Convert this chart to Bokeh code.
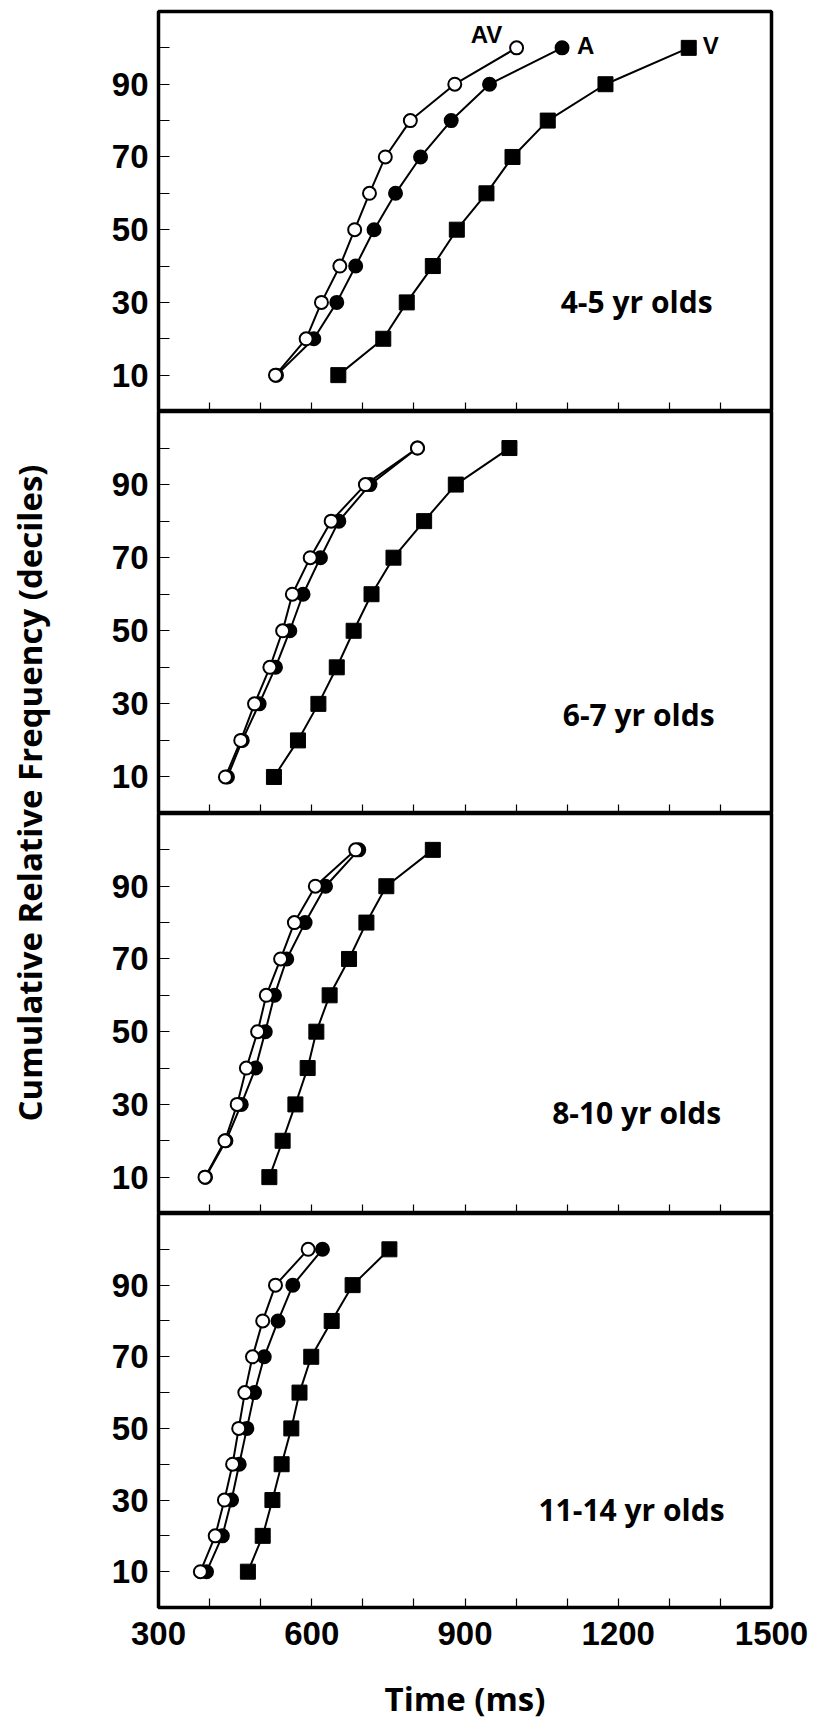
import numpy as np
from bokeh.plotting import figure
from bokeh.layouts import column, row
from bokeh.models import Range1d, FixedTicker, Label
from bokeh.embed import file_html
from bokeh.resources import INLINE

# ---------------- data ----------------
deciles = [10, 20, 30, 40, 50, 60, 70, 80, 90, 100]
groups = ["4-5 yr olds", "6-7 yr olds", "8-10 yr olds", "11-14 yr olds"]
series_names = ["AV", "A", "V"]

av_45 = [529, 589, 619, 655, 684, 713, 744, 793, 880, 1001]
a_45 = [531, 604, 649, 686, 722, 764, 813, 873, 948, 1090]
v_45 = [652, 740, 786, 837, 884, 942, 993, 1062, 1175, 1338]

av_67 = [431, 461, 488, 518, 543, 562, 597, 638, 705, 807]
a_67 = [435, 464, 497, 529, 557, 583, 617, 653, 714, 807]
v_67 = [526, 573, 613, 649, 682, 717, 760, 820, 882, 987]

av_810 = [391, 430, 454, 472, 494, 511, 539, 566, 607, 686]
a_810 = [392, 432, 462, 490, 509, 527, 551, 587, 627, 692]
v_810 = [517, 543, 568, 592, 609, 635, 673, 707, 746, 837]

av_1114 = [382, 411, 429, 445, 457, 469, 484, 504, 529, 593]
a_1114 = [394, 425, 443, 458, 473, 488, 507, 534, 563, 621]
v_1114 = [475, 504, 523, 541, 560, 576, 599, 639, 680, 752]

x_ticks = list(range(300, 1501, 100))
x_tick_labels = ["300", "600", "900", "1200", "1500"]
y_tick_labels = ["10", "30", "50", "70", "90"]

# ---------------- layout constants ----------------
YLAB_W = 60
LEFT = 98
RIGHT = 40
PANEL_W = LEFT + 613 + RIGHT
HEIGHTS = [411, 402, 400, 510]
TOPS = [11, 0, 0, 0]
BOTTOMS = [0, 0, 0, 108]
TOTAL_H = sum(HEIGHTS)
# positions of the group label in each panel (data units)
group_label_pos = [(1236, 30.3), (1240, 27.2), (1236, 27.8), (1226, 27.5)]
series_label_pos = [(942, 103.6), (1136, 100.6), (1381, 100.6)]

TICK_FONT = "Liberation Sans"
TEXT_FONT = "Open Sans"

data = [(av_45, a_45, v_45), (av_67, a_67, v_67),
        (av_810, a_810, v_810), (av_1114, a_1114, v_1114)]


def make_panel(i):
    av, a, v = data[i]
    bottom = (i == 3)
    p = figure(width=PANEL_W, height=HEIGHTS[i],
               x_range=Range1d(300, 1500), y_range=Range1d(0, 110),
               output_backend="svg", toolbar_location=None,
               min_border_left=LEFT, min_border_right=RIGHT,
               min_border_top=TOPS[i], min_border_bottom=BOTTOMS[i])
    p.grid.visible = False
    p.outline_line_color = "black"
    p.outline_line_width = 3.5
    p.background_fill_color = "white"
    p.border_fill_color = "white"

    # y axis
    ya = p.yaxis[0]
    ya.ticker = FixedTicker(ticks=deciles)
    overrides = {}
    for d in deciles:
        overrides[d] = str(d) if str(d) in y_tick_labels else ""
    ya.major_label_overrides = overrides
    ya.axis_line_color = None
    ya.major_tick_in = 11
    ya.major_tick_out = 0
    ya.minor_tick_in = 0
    ya.minor_tick_out = 0
    ya.major_tick_line_width = 1.2
    ya.minor_tick_line_color = None
    ya.major_label_text_font = TICK_FONT
    ya.major_label_text_font_style = "bold"
    ya.major_label_text_font_size = "33px"
    ya.major_label_text_color = "black"
    ya.major_label_standoff = 10

    # x axis
    xa = p.xaxis[0]
    xa.ticker = FixedTicker(ticks=x_ticks)
    xo = {}
    for t in x_ticks:
        xo[t] = str(t) if (bottom and str(t) in x_tick_labels) else ""
    xa.major_label_overrides = xo
    xa.axis_line_color = None
    xa.major_tick_in = 9
    xa.major_tick_out = 0
    xa.minor_tick_in = 0
    xa.minor_tick_out = 0
    xa.major_tick_line_width = 1.2
    xa.minor_tick_line_color = None
    if bottom:
        xa.major_label_text_font = TICK_FONT
        xa.major_label_text_font_style = "bold"
        xa.major_label_text_font_size = "33px"
        xa.major_label_text_color = "black"
        xa.major_label_standoff = 14
        xa.axis_label = "Time (ms)"
        xa.axis_label_text_font = TEXT_FONT
        xa.axis_label_text_font_style = "bold"
        xa.axis_label_text_font_size = "33px"
        xa.axis_label_text_color = "black"
        xa.axis_label_standoff = 28
    else:
        xa.major_label_text_font_size = "0px"
        xa.major_label_standoff = 0

    # lines
    for xs in (v, a, av):
        p.line(xs, deciles, line_color="black", line_width=2)
    # markers
    p.scatter(v, deciles, marker="square", size=15, fill_color="black",
              line_color="black", line_width=1)
    p.scatter(a, deciles, marker="circle", size=13, fill_color="black",
              line_color="black", line_width=2)
    p.scatter(av, deciles, marker="circle", size=13, fill_color="white",
              line_color="black", line_width=2)

    gx, gy = group_label_pos[i]
    p.add_layout(Label(x=gx, y=gy, text=groups[i], text_align="center",
                       text_baseline="middle", text_font=TEXT_FONT,
                       text_font_style="bold", text_font_size="30px",
                       text_color="black"))
    if i == 0:
        for name, (sx, sy) in zip(series_names, series_label_pos):
            p.add_layout(Label(x=sx, y=sy, text=name, text_align="center",
                               text_baseline="middle", text_font=TICK_FONT,
                               text_font_style="bold", text_font_size="24px",
                               text_color="black"))
    return p


panels = [make_panel(i) for i in range(4)]

ylab = figure(width=YLAB_W, height=TOTAL_H, x_range=Range1d(0, YLAB_W),
              y_range=Range1d(0, TOTAL_H), x_axis_type=None, y_axis_type=None,
              output_backend="svg", toolbar_location=None, min_border=0)
ylab.grid.visible = False
ylab.outline_line_color = None
ylab.add_layout(Label(x=29, y=TOTAL_H - 792.5,
                      text="Cumulative Relative Frequency (deciles)",
                      angle=np.pi / 2, text_align="center",
                      text_baseline="alphabetic", text_font=TEXT_FONT,
                      text_font_style="bold", text_font_size="33px",
                      text_color="black"))

layout = row(ylab, column(*panels))

with open("out.html", "w") as f:
    f.write(file_html(layout, INLINE))
